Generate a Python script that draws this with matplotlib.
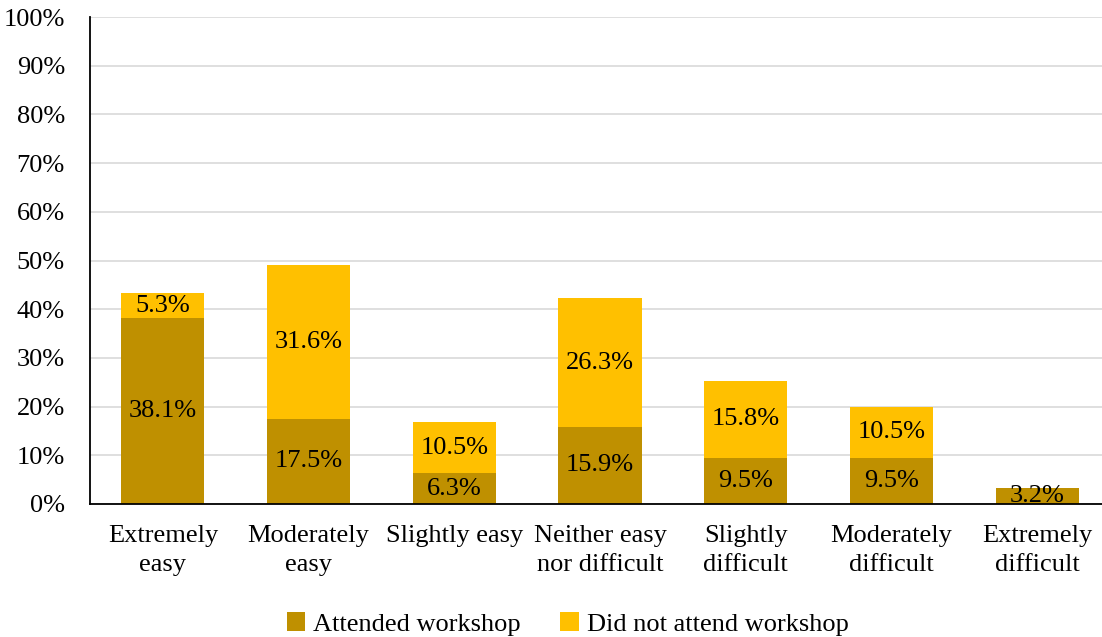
#!/usr/bin/env python3
"""Stacked bar chart of perceived difficulty by workshop attendance"""
import matplotlib
matplotlib.use('Agg')
import matplotlib.pyplot as plt
import numpy as np

categories = ['Extremely\neasy', 'Moderately\neasy', 'Slightly easy',
              'Neither easy\nnor difficult', 'Slightly\ndifficult',
              'Moderately\ndifficult', 'Extremely\ndifficult']
attended = [38.1, 17.5, 6.3, 15.9, 9.5, 9.5, 3.2]
not_attended = [5.3, 31.6, 10.5, 26.3, 15.8, 10.5, 0.0]
series_names = ['Attended workshop', 'Did not attend workshop']
colors = ['#BF9000', '#FFC000']

plt.rcParams['font.family'] = ['Liberation Serif', 'DejaVu Serif']
plt.rcParams['font.size'] = 19

fig = plt.figure(figsize=(11.02, 6.37), dpi=100)
ax = fig.add_axes([90 / 1102, 1 - 504 / 637, 1020 / 1102, 487 / 637])

x = np.arange(len(categories))
width = 0.57
bottom = np.zeros(len(categories))
for vals, name, col in zip([attended, not_attended], series_names, colors):
    vals = np.array(vals)
    ax.bar(x, vals, width=width, bottom=bottom, color=col, label=name,
           zorder=2)
    for xi, b, v in zip(x, bottom, vals):
        if v > 0:
            ax.text(xi, b + v / 2, '%.1f%%' % v, ha='center', va='center',
                    fontsize=19, zorder=3)
    bottom += vals

ax.set_xlim(-0.5, len(categories) - 0.5)
ax.set_ylim(0, 100)
ax.set_yticks(np.arange(0, 101, 10))
ax.set_yticklabels(['%d%%' % v for v in range(0, 101, 10)])
ax.set_xticks(x)
ax.set_xticklabels(categories, linespacing=1.4)
ax.tick_params(axis='both', length=0, labelsize=19)
ax.tick_params(axis='x', pad=15)
ax.tick_params(axis='y', pad=18)
ax.yaxis.grid(True, color='#D9D9D9', linewidth=1.2, zorder=0)
ax.set_axisbelow(True)
for s in ['top', 'right']:
    ax.spines[s].set_visible(False)
for s in ['left', 'bottom']:
    ax.spines[s].set_linewidth(1.3)
    ax.spines[s].set_color('black')

fig.legend(loc='lower center', ncol=2, frameon=False, fontsize=19,
           bbox_to_anchor=(0.515, -0.035), handlelength=0.7, handleheight=0.7,
           columnspacing=1.5, handletextpad=0.3)

fig.savefig('out.png', dpi=100)
